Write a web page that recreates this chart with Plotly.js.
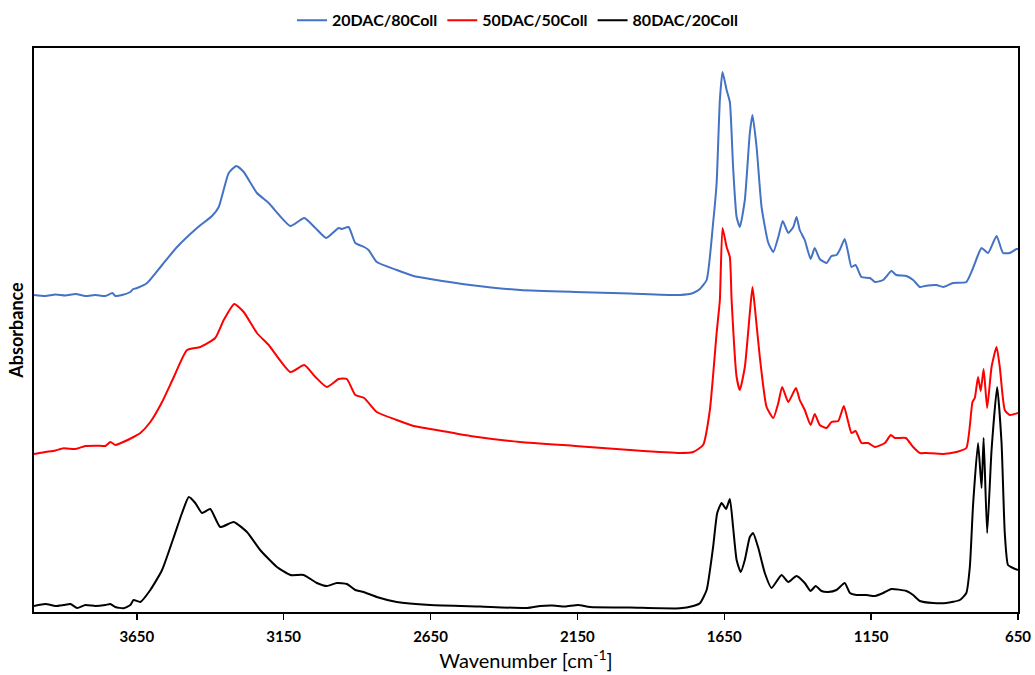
<!DOCTYPE html>
<html>
<head>
<meta charset="utf-8">
<script src="https://cdn.plot.ly/plotly-3.0.1.min.js"></script>
<style>html,body{margin:0;padding:0;background:#fff;}#chart{width:1035px;height:675px;}</style>
</head>
<body>
<div id="chart"></div>
<script>
// Series names
const seriesNames = ["20DAC/80Coll", "50DAC/50Coll", "80DAC/20Coll"];

// 20DAC/80Coll (wavenumber cm-1, absorbance a.u.)
const wnBlue = [4000,3961,3927,3893,3859,3825,3791,3757,3733,3723,3700,3672,3662,3649,3615,3564,3513,3445,3394,3371,3337,3311,3286,3241,3201,3127,3080,3042,3005,2963,2952,2929,2906,2876,2861,2833,2765,2708,2651,2515,2345,2158,1971,1801,1756,1733,1710,1688,1676,1665,1656,1642,1631,1620,1608,1597,1580,1563,1554,1540,1523,1500,1483,1466,1451,1432,1415,1404,1393,1376,1356,1342,1325,1302,1285,1268,1257,1240,1228,1217,1203,1183,1154,1137,1109,1081,1064,1030,1007,984,967,928,905,871,826,803,786,774,752,723,701,678,655,650];
const absBlue = [0.317,0.316,0.3175,0.3165,0.318,0.316,0.317,0.316,0.319,0.316,0.317,0.320,0.323,0.324,0.329,0.347,0.365,0.384,0.396,0.405,0.439,0.446,0.440,0.419,0.409,0.386,0.394,0.384,0.374,0.384,0.383,0.385,0.369,0.365,0.362,0.350,0.342,0.336,0.333,0.327,0.322,0.320,0.3185,0.317,0.319,0.323,0.332,0.389,0.429,0.512,0.540,0.522,0.510,0.445,0.395,0.385,0.412,0.479,0.497,0.465,0.405,0.369,0.360,0.375,0.391,0.379,0.385,0.395,0.382,0.372,0.353,0.364,0.353,0.349,0.356,0.357,0.362,0.373,0.359,0.345,0.347,0.335,0.334,0.330,0.332,0.341,0.337,0.336,0.332,0.325,0.326,0.327,0.325,0.329,0.330,0.344,0.357,0.364,0.359,0.376,0.359,0.359,0.363,0.363];

// 50DAC/50Coll
const wnRed = [4000,3961,3927,3899,3859,3825,3785,3757,3740,3723,3706,3661,3638,3604,3564,3524,3479,3434,3383,3354,3318,3286,3241,3201,3127,3080,3042,3003,2963,2935,2906,2876,2833,2765,2708,2651,2515,2345,2158,1971,1801,1756,1722,1699,1676,1665,1656,1642,1631,1625,1608,1597,1580,1563,1554,1546,1529,1506,1483,1466,1453,1432,1406,1393,1376,1356,1342,1325,1302,1285,1262,1243,1228,1217,1203,1183,1160,1137,1103,1083,1069,1032,1007,984,962,905,860,826,805,797,786,777,767,755,740,723,712,695,678,650];
const absRed = [0.158,0.160,0.1615,0.1637,0.163,0.166,0.1663,0.166,0.170,0.167,0.1687,0.175,0.179,0.190,0.210,0.235,0.262,0.265,0.274,0.292,0.308,0.300,0.279,0.267,0.240,0.247,0.235,0.225,0.233,0.233,0.217,0.214,0.200,0.192,0.186,0.183,0.176,0.170,0.166,0.162,0.159,0.160,0.167,0.202,0.279,0.312,0.384,0.365,0.355,0.312,0.235,0.222,0.245,0.299,0.325,0.305,0.255,0.205,0.194,0.209,0.225,0.210,0.224,0.212,0.202,0.187,0.198,0.187,0.184,0.190,0.191,0.206,0.190,0.179,0.181,0.169,0.169,0.165,0.169,0.177,0.174,0.174,0.165,0.159,0.159,0.158,0.160,0.164,0.210,0.214,0.235,0.221,0.243,0.204,0.245,0.265,0.245,0.202,0.197,0.199];

// 80DAC/20Coll
const wnBlack = [4000,3961,3927,3899,3876,3853,3825,3791,3757,3740,3723,3695,3672,3661,3638,3604,3564,3524,3496,3473,3451,3428,3400,3366,3320,3275,3230,3173,3127,3082,3037,3003,2969,2935,2906,2878,2833,2765,2651,2481,2321,2277,2236,2192,2148,2107,1971,1801,1756,1733,1710,1688,1674,1659,1644,1631,1620,1608,1594,1580,1563,1552,1534,1512,1489,1455,1432,1404,1376,1356,1339,1319,1296,1268,1240,1222,1200,1166,1137,1109,1081,1030,1007,984,939,894,848,826,814,803,786,774,767,755,740,721,706,695,684,667,650];
const absBlack = [0.006,0.008,0.006,0.007,0.008,0.004,0.007,0.006,0.007,0.008,0.005,0.0037,0.007,0.012,0.010,0.022,0.042,0.075,0.099,0.115,0.109,0.099,0.103,0.085,0.090,0.080,0.062,0.045,0.037,0.037,0.029,0.026,0.029,0.028,0.022,0.020,0.015,0.010,0.007,0.0055,0.004,0.006,0.0065,0.0055,0.007,0.005,0.0045,0.0037,0.006,0.0087,0.022,0.065,0.099,0.109,0.103,0.113,0.085,0.052,0.040,0.052,0.075,0.079,0.064,0.039,0.024,0.037,0.030,0.036,0.029,0.021,0.026,0.021,0.020,0.022,0.029,0.019,0.017,0.017,0.016,0.019,0.023,0.021,0.017,0.011,0.009,0.009,0.012,0.019,0.045,0.107,0.169,0.124,0.174,0.079,0.162,0.225,0.169,0.079,0.047,0.044,0.042];

// Axis ticks
const xTickVals = [3650, 3150, 2650, 2150, 1650, 1150, 650];
const xTickText = ["3650", "3150", "2650", "2150", "1650", "1150", "650"];
const xRange = [4000, 650];
const yRange = [0, 0.564];

const colors = ["#4472C4", "#FF0000", "#000000"];
const xs = [wnBlue, wnRed, wnBlack];
const ys = [absBlue, absRed, absBlack];

const traces = seriesNames.map((n, i) => ({
  type: "scatter",
  mode: "lines",
  name: n,
  x: xs[i],
  y: ys[i],
  line: {color: colors[i], width: 2, shape: "spline", smoothing: 0.5},
  hoverinfo: "skip"
}));

const fontFam = "Lato, 'Open Sans', 'DejaVu Sans', sans-serif";

const layout = {
  width: 1035,
  height: 675,
  margin: {l: 34, r: 17, t: 48, b: 63, autoexpand: false},
  paper_bgcolor: "#ffffff",
  plot_bgcolor: "#ffffff",
  showlegend: true,
  legend: {
    orientation: "h",
    xref: "container", yref: "container",
    x: 0.50, xanchor: "center",
    y: 0.970, yanchor: "middle",
    font: {family: fontFam, size: 16, color: "#000", weight: "bold"},
    itemwidth: 30,
    tracegroupgap: 0
  },
  xaxis: {
    range: xRange,
    tickmode: "array",
    tickvals: xTickVals,
    ticktext: xTickText,
    ticks: "outside",
    ticklen: 6,
    tickwidth: 1.5,
    tickcolor: "#000",
    ticklabelstandoff: 4,
    tickfont: {family: fontFam, size: 15, color: "#000", weight: "bold"},
    showline: true, linecolor: "#000", linewidth: 2, mirror: true,
    showgrid: false, zeroline: false,
    title: {text: "Wavenumber [cm<sup>-1</sup>]", font: {family: fontFam, size: 20, color: "#000"}, standoff: 10}
  },
  yaxis: {
    range: yRange,
    showticklabels: false,
    ticks: "",
    showline: true, linecolor: "#000", linewidth: 2, mirror: true,
    showgrid: false, zeroline: false,
    title: {text: "Absorbance", font: {family: fontFam, size: 18, color: "#000", weight: "bold"}, standoff: 4}
  }
};

Plotly.newPlot("chart", traces, layout, {displayModeBar: false, staticPlot: true});
</script>
</body>
</html>
